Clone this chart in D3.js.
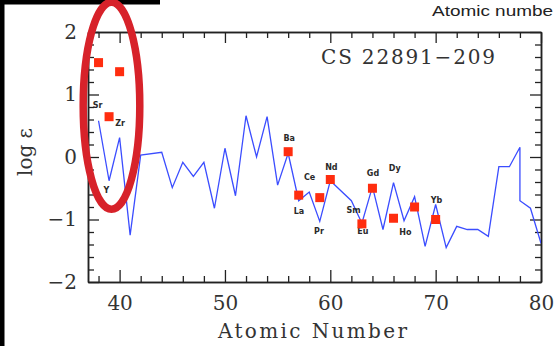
<!DOCTYPE html>
<html>
<head>
<meta charset="utf-8">
<script src="https://cdn.jsdelivr.net/npm/d3@7"></script>
<style>
html,body{margin:0;padding:0;background:#fff;}
svg{display:block;}
</style>
</head>
<body>
<svg id="chart" width="556" height="346"></svg>
<script>
// ---- data ----
const lineZ = [38,39,40,41,42,44,45,46,47,48,49,50,51,52,53,54,55,56,57,58,59,60,62,63,64,65,66,67,68,69,70,71,72,73,74,75,76,77,78,78,79,80];
const lineLogEps = [0.58,-0.38,0.31,-1.25,0.03,0.075,-0.49,-0.085,-0.31,-0.085,-0.82,0.14,-0.62,0.66,0.0,0.645,-0.45,0.06,-0.70,-0.56,-1.03,-0.38,-0.70,-1.06,-0.475,-1.16,-0.41,-1.02,-0.635,-1.43,-0.76,-1.45,-1.11,-1.16,-1.16,-1.27,-0.155,-0.155,0.155,-0.70,-0.82,-1.38];
const obsZ = [38,39,40,56,57,59,60,63,64,66,68,70];
const obsLogEps = [1.51,0.645,1.365,0.085,-0.61,-0.65,-0.36,-1.07,-0.5,-0.98,-0.8,-1.0];
const labelNames = ["Sr","Zr","Y","Ba","Ce","La","Nd","Pr","Sm","Gd","Eu","Dy","Ho","Yb"];
const labelZ = [37.91,40.05,38.74,56.1,58.04,57.03,60.1,58.93,62.2,64.05,63.1,66.12,67.13,70.08];
const labelLogEps = [0.83,0.54,-0.54,0.30,-0.325,-0.875,-0.17,-1.195,-0.85,-0.26,-1.195,-0.18,-1.205,-0.69];
const xMajorTicks = [40,50,60,70,80];
const xMinorTicks = [38,42,44,46,48,52,54,56,58,62,64,66,68,72,74,76,78];
const yMajorTicks = [-2,-1,0,1,2];
const yMinorTicks = [-1.8,-1.6,-1.4,-1.2,-0.8,-0.6,-0.4,-0.2,0.2,0.4,0.6,0.8,1.2,1.4,1.6,1.8];
const starName = "CS 22891\u2212209";
const xTitle = "Atomic Number";
const yTitle = "log \u03b5";
const topText = "Atomic numbe";

// ---- layout ----
const svg = d3.select("#chart");
const L = 88, R = 541, T = 32, B = 282;
const x = d3.scaleLinear().domain([37,80]).range([L,R]);
const y = d3.scaleLinear().domain([-2,2]).range([B,T]);
const serif = "'DejaVu Serif', serif";
const axisColor = "#222";

// decorative black borders of the cropped screenshot
svg.append("rect").attr("x",0).attr("y",0).attr("width",160).attr("height",4.5).attr("fill","#000");
svg.append("rect").attr("x",0).attr("y",0).attr("width",4.5).attr("height",346).attr("fill","#000");

// top-right (cropped in the original) text
svg.append("text").attr("x",432).attr("y",16).attr("font-family","'Liberation Sans', Arial, sans-serif")
  .attr("font-size",14.5).attr("textLength",121).attr("lengthAdjust","spacingAndGlyphs")
  .attr("fill","#222").text(topText);

function styleAxis(g){
  g.selectAll("path.domain").attr("stroke",axisColor).attr("stroke-width",1.5);
  g.selectAll(".tick line").attr("stroke",axisColor).attr("stroke-width",1.3);
  g.selectAll("text").attr("font-family",serif).attr("font-size",20).attr("fill","#333");
}

// bottom
const gb = svg.append("g").attr("transform",`translate(0,${B})`)
  .call(d3.axisBottom(x).tickValues(xMajorTicks).tickSizeInner(-12).tickSizeOuter(0).tickPadding(14).tickFormat(d3.format("d")));
styleAxis(gb);
const gbm = svg.append("g").attr("transform",`translate(0,${B})`)
  .call(d3.axisBottom(x).tickValues(xMinorTicks).tickSizeInner(-6).tickSizeOuter(0).tickFormat(""));
styleAxis(gbm);
// top
const gt = svg.append("g").attr("transform",`translate(0,${T})`)
  .call(d3.axisTop(x).tickValues(xMajorTicks).tickSizeInner(-11).tickSizeOuter(0).tickFormat(""));
styleAxis(gt);
const gtm = svg.append("g").attr("transform",`translate(0,${T})`)
  .call(d3.axisTop(x).tickValues(xMinorTicks).tickSizeInner(-6).tickSizeOuter(0).tickFormat(""));
styleAxis(gtm);
// left
const gl = svg.append("g").attr("transform",`translate(${L},0)`)
  .call(d3.axisLeft(y).tickValues(yMajorTicks).tickSizeInner(-11).tickSizeOuter(0).tickPadding(11)
    .tickFormat(d => d < 0 ? "\u2212" + Math.abs(d) : String(d)));
styleAxis(gl);
const glm = svg.append("g").attr("transform",`translate(${L},0)`)
  .call(d3.axisLeft(y).tickValues(yMinorTicks).tickSizeInner(-6).tickSizeOuter(0).tickFormat(""));
styleAxis(glm);
// right
const gr = svg.append("g").attr("transform",`translate(${R},0)`)
  .call(d3.axisRight(y).tickValues(yMajorTicks).tickSizeInner(-11).tickSizeOuter(0).tickFormat(""));
styleAxis(gr);
const grm = svg.append("g").attr("transform",`translate(${R},0)`)
  .call(d3.axisRight(y).tickValues(yMinorTicks).tickSizeInner(-6).tickSizeOuter(0).tickFormat(""));
styleAxis(grm);

// axis titles
svg.append("text").attr("x",218).attr("y",338)
  .attr("textLength",189).attr("lengthAdjust","spacing")
  .attr("font-family",serif).attr("font-size",20).attr("fill","#333").text(xTitle);
svg.append("text").attr("transform",`translate(32,${152}) rotate(-90)`).attr("text-anchor","middle")
  .attr("font-family",serif).attr("font-size",20).attr("fill","#333").text(yTitle);

// star name
svg.append("text").attr("x",321).attr("y",64).attr("textLength",174).attr("lengthAdjust","spacing")
  .attr("font-family",serif).attr("font-size",20).attr("fill","#333").text(starName);

// clip
svg.append("clipPath").attr("id","plotclip").append("rect").attr("x",L).attr("y",T).attr("width",R-L).attr("height",B-T);

// line
const lineData = lineZ.map((z,i)=>[z,lineLogEps[i]]);
svg.append("path").datum(lineData).attr("clip-path","url(#plotclip)")
  .attr("d", d3.line().x(d=>x(d[0])).y(d=>y(d[1])))
  .attr("fill","none").attr("stroke","#3b4dff").attr("stroke-width",1.3).attr("stroke-linejoin","miter");

// labels
svg.append("g").selectAll("text").data(labelNames).join("text")
  .attr("x",(d,i)=>x(labelZ[i])).attr("y",(d,i)=>y(labelLogEps[i]))
  .attr("text-anchor","middle").attr("dominant-baseline","central")
  .attr("font-family","'DejaVu Sans', sans-serif").attr("font-weight","bold").attr("font-size",8)
  .attr("fill","#2a2a2a").text(d=>d);

// observed squares
const sq = 9;
svg.append("g").selectAll("rect").data(obsZ).join("rect")
  .attr("x",(d)=>x(d)-sq/2).attr("y",(d,i)=>y(obsLogEps[i])-sq/2)
  .attr("width",sq).attr("height",sq).attr("fill","#ff2d0f");

// red annotation ellipse
svg.append("ellipse").attr("cx",x(39.23)).attr("cy",y(0.82)).attr("rx",28.3).attr("ry",103.5)
  .attr("fill","none").attr("stroke","#d7222a").attr("stroke-width",7.5);
</script>
</body>
</html>
